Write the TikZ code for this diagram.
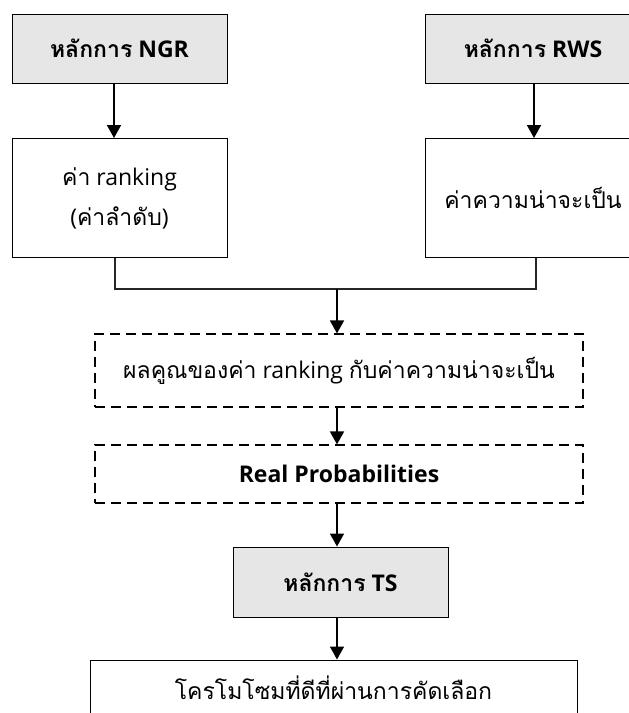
\documentclass[tikz,border=0pt]{standalone}
\usepackage{fontspec}
\setmainfont{Open Sans}
\newfontfamily\thai[Script=Thai]{Loma}
\usetikzlibrary{arrows.meta}
\definecolor{boxgray}{RGB}{231,230,230}
\begin{document}
\begin{tikzpicture}[x=1pt,y=-1pt,
  every node/.style={font=\fontsize{23}{40}\selectfont, inner sep=0pt, align=center},
  box/.style={draw=black, line width=1pt},
  graybox/.style={box, fill=boxgray, font=\fontsize{23}{40}\selectfont\bfseries},
  dashbox/.style={draw=black, line width=1.2pt, dash pattern=on 10pt off 6pt},
  flow/.style={line width=1.8pt, -{Triangle[width=14pt,length=13pt]}},
  link/.style={line width=1.2pt, draw=black!85}
]
\useasboundingbox (0,0) rectangle (629,713);
\clip (0,0) rectangle (629,713);

% input principles and their values
\node[graybox, minimum width=215pt, minimum height=69pt] (ngr) at (119.5,48.5) {{\thai หลักการ} NGR};
\node[box, minimum width=215pt, minimum height=119pt] (rank) at (119.5,198) {{\thai ค่า} ranking\\({\thai ค่าลำดับ})};
\node[graybox, minimum width=215pt, minimum height=69pt] (rws) at (533,48.5) {{\thai หลักการ} RWS};
\node[box, minimum width=215pt, minimum height=119pt] (prob) at (533,198) {\thai ค่าความน่าจะเป็น};

% combined values
\node[dashbox, minimum width=488pt, minimum height=73pt] (mult) at (339,370.5) {{\thai ผลคูณของค่า} ranking {\thai กับค่าความน่าจะเป็น}};
\node[dashbox, minimum width=488pt, minimum height=58pt, font=\fontsize{23}{40}\selectfont\bfseries] (real) at (339,474) {Real Probabilities};

% selection
\node[graybox, minimum width=215pt, minimum height=70pt] (ts) at (340.5,582) {{\thai หลักการ} TS};
\node[box, minimum width=487pt, minimum height=55pt] (sel) at (333.5,687.5) {\thai โครโมโซมที่ดีที่ผ่านการคัดเลือก};

% connectors
\coordinate (j) at (337,289);
\draw[flow] ([xshift=-5.5pt]ngr.south) -- ([xshift=-5.5pt]rank.north);
\draw[flow] ([xshift=1pt]rws.south) -- ([xshift=1pt]prob.north);
\draw[link] ([xshift=-4.5pt]rank.south) |- (j) -| ([xshift=3pt]prob.south);
\draw[flow] (j) -- (j |- mult.north);
\draw[flow] (j |- mult.south) -- (j |- real.north);
\draw[flow] (j |- real.south) -- (j |- ts.north);
\draw[flow] (j |- ts.south) -- (j |- sel.north);
\end{tikzpicture}
\end{document}
